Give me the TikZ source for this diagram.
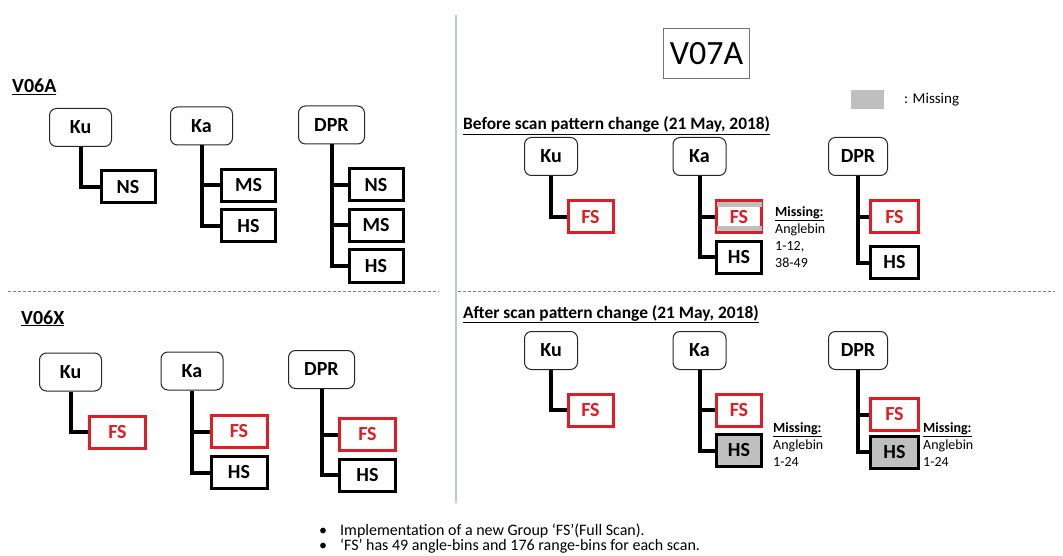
\documentclass[tikz,border=0pt]{standalone}
\usepackage{fontspec}
\setmainfont{Carlito}
\usetikzlibrary{calc}
\definecolor{fsred}{RGB}{222,30,36}
\definecolor{missgray}{RGB}{191,191,191}
\definecolor{sepblue}{RGB}{184,202,212}
\definecolor{dashgray}{RGB}{130,130,130}
\newcommand{\boxfont}{\bfseries\fontsize{20}{23}\selectfont}
\begin{document}
\begin{tikzpicture}[x=1pt,y=-1pt,
    group/.style={draw=black!85,rounded corners=7pt,line width=1pt,minimum width=62pt,minimum height=38pt,inner sep=0pt,font=\boxfont},
    sub/.style={draw,line width=3pt,minimum width=54pt,minimum height=32pt,inner sep=0pt,font=\boxfont},
    fs/.style={sub,draw=fsred,text=fsred},
    gone/.style={sub,fill=missgray},
    branch/.style={line width=4pt},
    title/.style={anchor=base west,inner sep=0pt,font=\bfseries\fontsize{20}{23}\selectfont},
    heading/.style={anchor=base west,inner sep=0pt,font=\bfseries\fontsize{17.4}{21}\selectfont},
    note/.style={anchor=north west,inner sep=0pt,align=left,font=\fontsize{14}{17}\selectfont},
    bullet/.style={anchor=base west,inner sep=0pt,font=\fontsize{16}{18}\selectfont},
    sep/.style={dash pattern=on 3pt off 2pt,draw=dashgray,line width=0.8pt}]

    \useasboundingbox (0,0) rectangle (1063,556);

    % V06A
    \node[title] (v06a) at (12,93) {\underline{V06A}};
    \node[group] (ku1) at (80.5,127.5) {Ku};
    \node[sub] (ns1) at (128,187) {NS};
    \draw[branch] (ku1.south) |- (ns1.west);
    \node[group] (ka1) at (201.5,126) {Ka};
    \node[sub] (ms1) at (248.5,185.5) {MS};
    \node[sub] (hs1) at (248.5,226) {HS};
    \draw[branch] (ka1.south) |- (ms1.west);
    \draw[branch] (ka1.south) |- (hs1.west);
    \node[group,minimum width=66pt] (dpr1) at (331.5,125) {DPR};
    \node[sub] (ns2) at (376,185) {NS};
    \node[sub] (ms2) at (376,225.5) {MS};
    \node[sub] (hs2) at (376,266) {HS};
    \draw[branch] (dpr1.south) |- (ns2.west);
    \draw[branch] (dpr1.south) |- (ms2.west);
    \draw[branch] (dpr1.south) |- (hs2.west);

    \draw[sep] (8,291) -- (439,291);

    % V06X
    \node[title] (v06x) at (21,324) {\underline{V06X}};
    \node[group] (ku2) at (70.5,372) {Ku};
    \node[fs,minimum width=56pt] (fs1) at (117.5,432) {FS};
    \draw[branch] (ku2.south) |- (fs1.west);
    \node[group] (ka2) at (192,371) {Ka};
    \node[fs,minimum width=56pt] (fs2) at (239,431.5) {FS};
    \node[sub,minimum width=56pt] (hs3) at (239,472.5) {HS};
    \draw[branch] (ka2.south) |- (fs2.west);
    \draw[branch] (ka2.south) |- (hs3.west);
    \node[group,minimum width=66pt] (dpr2) at (321.5,369.5) {DPR};
    \node[fs,minimum width=56pt] (fs3) at (367.5,434.5) {FS};
    \node[sub,minimum width=56pt] (hs4) at (367.5,475) {HS};
    \draw[branch] (dpr2.south) |- (fs3.west);
    \draw[branch] (dpr2.south) |- (hs4.west);

    \draw[sepblue,line width=1.5pt] (456,15) -- (456,503);

    % V07A
    \node[draw=black!55,line width=0.8pt,minimum width=86pt,minimum height=50pt,inner sep=0pt,font=\fontsize{34}{40}\selectfont] (v07a) at (706.5,53.5) {V07A};
    \fill[missgray] (851,90) rectangle (884,109);
    \node[anchor=west,inner sep=0pt,font=\fontsize{15}{18}\selectfont] (legend) at (904,100) {: Missing};

    \begin{scope}[group/.append style={minimum width=53pt},sub/.append style={minimum width=45pt}]
    \node[heading] (before) at (463,130) {\underline{Before scan pattern change (21 May, 2018)}};
    \node[group] (ku3) at (551,156.5) {Ku};
    \node[fs] (fs4) at (590.5,217) {FS};
    \draw[branch] (ku3.south) |- (fs4.west);
    \node[group] (ka3) at (699.5,156.5) {Ka};
    \node[fs] (fs5) at (739,217) {FS};
    \node[sub] (hs5) at (739,257.5) {HS};
    \fill[missgray] ($(fs5.north west)+(1.5,3)$) rectangle ($(fs5.north east)+(-1.5,8)$);
    \fill[missgray] ($(fs5.south west)+(1.5,-3)$) rectangle ($(fs5.south east)+(-1.5,-8)$);
    \draw[branch] (ka3.south) |- (fs5.west);
    \draw[branch] (ka3.south) |- (hs5.west);
    \node[note] (miss1) at (775,206) {\underline{\textbf{Missing:}}\\Anglebin\\1-12,\\38-49};
    \node[group,minimum width=59pt] (dpr3) at (858,156.5) {DPR};
    \node[fs,minimum width=48pt] (fs6) at (894.5,217) {FS};
    \node[sub,minimum width=48pt] (hs6) at (894.5,262.5) {HS};
    \draw[branch] (dpr3.south) |- (fs6.west);
    \draw[branch] (dpr3.south) |- (hs6.west);

    \draw[sep] (458,291) -- (1055,291);

    \node[heading] (after) at (463,318) {\underline{After scan pattern change (21 May, 2018)}};
    \node[group] (ku4) at (551,350.5) {Ku};
    \node[fs] (fs7) at (590.5,410) {FS};
    \draw[branch] (ku4.south) |- (fs7.west);
    \node[group] (ka4) at (699.5,350.5) {Ka};
    \node[fs] (fs8) at (739,410) {FS};
    \node[gone] (hs7) at (739,450.5) {HS};
    \draw[branch] (ka4.south) |- (fs8.west);
    \draw[branch] (ka4.south) |- (hs7.west);
    \node[note] (miss2) at (773,422) {\underline{\textbf{Missing:}}\\Anglebin\\1-24};
    \node[group,minimum width=59pt] (dpr4) at (858,350.5) {DPR};
    \node[fs,minimum width=48pt] (fs9) at (894.5,414.5) {FS};
    \node[gone,minimum width=48pt] (hs8) at (894.5,452) {HS};
    \draw[branch] (dpr4.south) |- (fs9.west);
    \draw[branch] (dpr4.south) |- (hs8.west);
    \node[note] (miss3) at (923,422) {\underline{\textbf{Missing:}}\\Anglebin\\1-24};
    \end{scope}

    \node[bullet] (dot1) at (319,535) {\textbullet};
    \node[bullet] (item1) at (340,535) {Implementation of a new Group ‘FS’(Full Scan).};
    \node[bullet] (dot2) at (319,550) {\textbullet};
    \node[bullet] (item2) at (340,550) {‘FS’ has 49 angle-bins and 176 range-bins for each scan.};
\end{tikzpicture}
\end{document}
